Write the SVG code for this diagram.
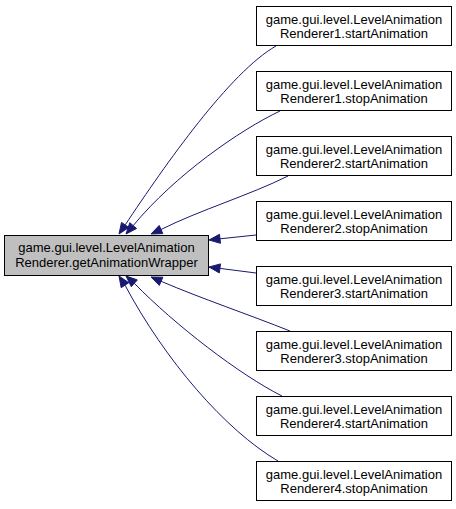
<svg xmlns="http://www.w3.org/2000/svg" width="456" height="509" viewBox="0 0 456 509">
<style>
.node rect{stroke:#000;stroke-width:1;fill:#fff}
#n0 rect{fill:#bfbfbf}
text{font-family:"Liberation Sans",Arial,sans-serif;font-size:13px;fill:#000;text-anchor:middle}
.edge path{fill:none;stroke:#191970;stroke-width:1}
.edge polygon{fill:#191970;stroke:#191970;stroke-width:1}
</style>
<rect width="456" height="509" fill="#fff"/>
<g id="edges" class="edge">
<path d="M276,46 C230,72 165,165 125.2,224.9"/>
<polygon points="119,234 121.5,222.4 128.9,227.4"/>
<path d="M280,111 C240,130 175,175 133.2,225.6"/>
<polygon points="126,234 129.8,222.7 136.6,228.5"/>
<path d="M288,176 C250,195 200,210 161,229.5"/>
<polygon points="151,234 159.2,225.4 162.8,233.6"/>
<path d="M256,235 L220,238.8"/>
<polygon points="209,240 219.5,234.3 220.5,243.3"/>
<path d="M256,273 L220,268.4"/>
<polygon points="209,267 220.5,263.9 219.3,272.9"/>
<path d="M290,331 C250,315 200,298 161.1,281.3"/>
<polygon points="151,277 162.9,277.2 159.3,285.4"/>
<path d="M282,396 C240,375 175,325 134.3,283.3"/>
<polygon points="126,276 137.3,279.9 131.3,286.7"/>
<path d="M278,461 C225,430 165,360 125,285.2"/>
<polygon points="119,276 128.8,282.7 121.2,287.7"/>
</g>
<g id="n0" class="node">
<rect x="4.5" y="235.5" width="204" height="40"/>
<text x="106.5" y="252">game.gui.level.LevelAnimation</text>
<text x="106.5" y="266.5">Renderer.getAnimationWrapper</text>
</g>
<g id="n1" class="node">
<rect x="256.5" y="6.5" width="195" height="39"/>
<text x="354" y="23.5">game.gui.level.LevelAnimation</text>
<text x="354" y="38">Renderer1.startAnimation</text>
</g>
<g id="n2" class="node">
<rect x="256.5" y="71.5" width="195" height="39"/>
<text x="354" y="88.5">game.gui.level.LevelAnimation</text>
<text x="354" y="103">Renderer1.stopAnimation</text>
</g>
<g id="n3" class="node">
<rect x="256.5" y="136.5" width="195" height="39"/>
<text x="354" y="153.5">game.gui.level.LevelAnimation</text>
<text x="354" y="168">Renderer2.startAnimation</text>
</g>
<g id="n4" class="node">
<rect x="256.5" y="201.5" width="195" height="39"/>
<text x="354" y="218.5">game.gui.level.LevelAnimation</text>
<text x="354" y="233">Renderer2.stopAnimation</text>
</g>
<g id="n5" class="node">
<rect x="256.5" y="266.5" width="195" height="39"/>
<text x="354" y="283.5">game.gui.level.LevelAnimation</text>
<text x="354" y="298">Renderer3.startAnimation</text>
</g>
<g id="n6" class="node">
<rect x="256.5" y="331.5" width="195" height="39"/>
<text x="354" y="348.5">game.gui.level.LevelAnimation</text>
<text x="354" y="363">Renderer3.stopAnimation</text>
</g>
<g id="n7" class="node">
<rect x="256.5" y="396.5" width="195" height="39"/>
<text x="354" y="413.5">game.gui.level.LevelAnimation</text>
<text x="354" y="428">Renderer4.startAnimation</text>
</g>
<g id="n8" class="node">
<rect x="256.5" y="461.5" width="195" height="39"/>
<text x="354" y="478.5">game.gui.level.LevelAnimation</text>
<text x="354" y="493">Renderer4.stopAnimation</text>
</g>
</svg>
